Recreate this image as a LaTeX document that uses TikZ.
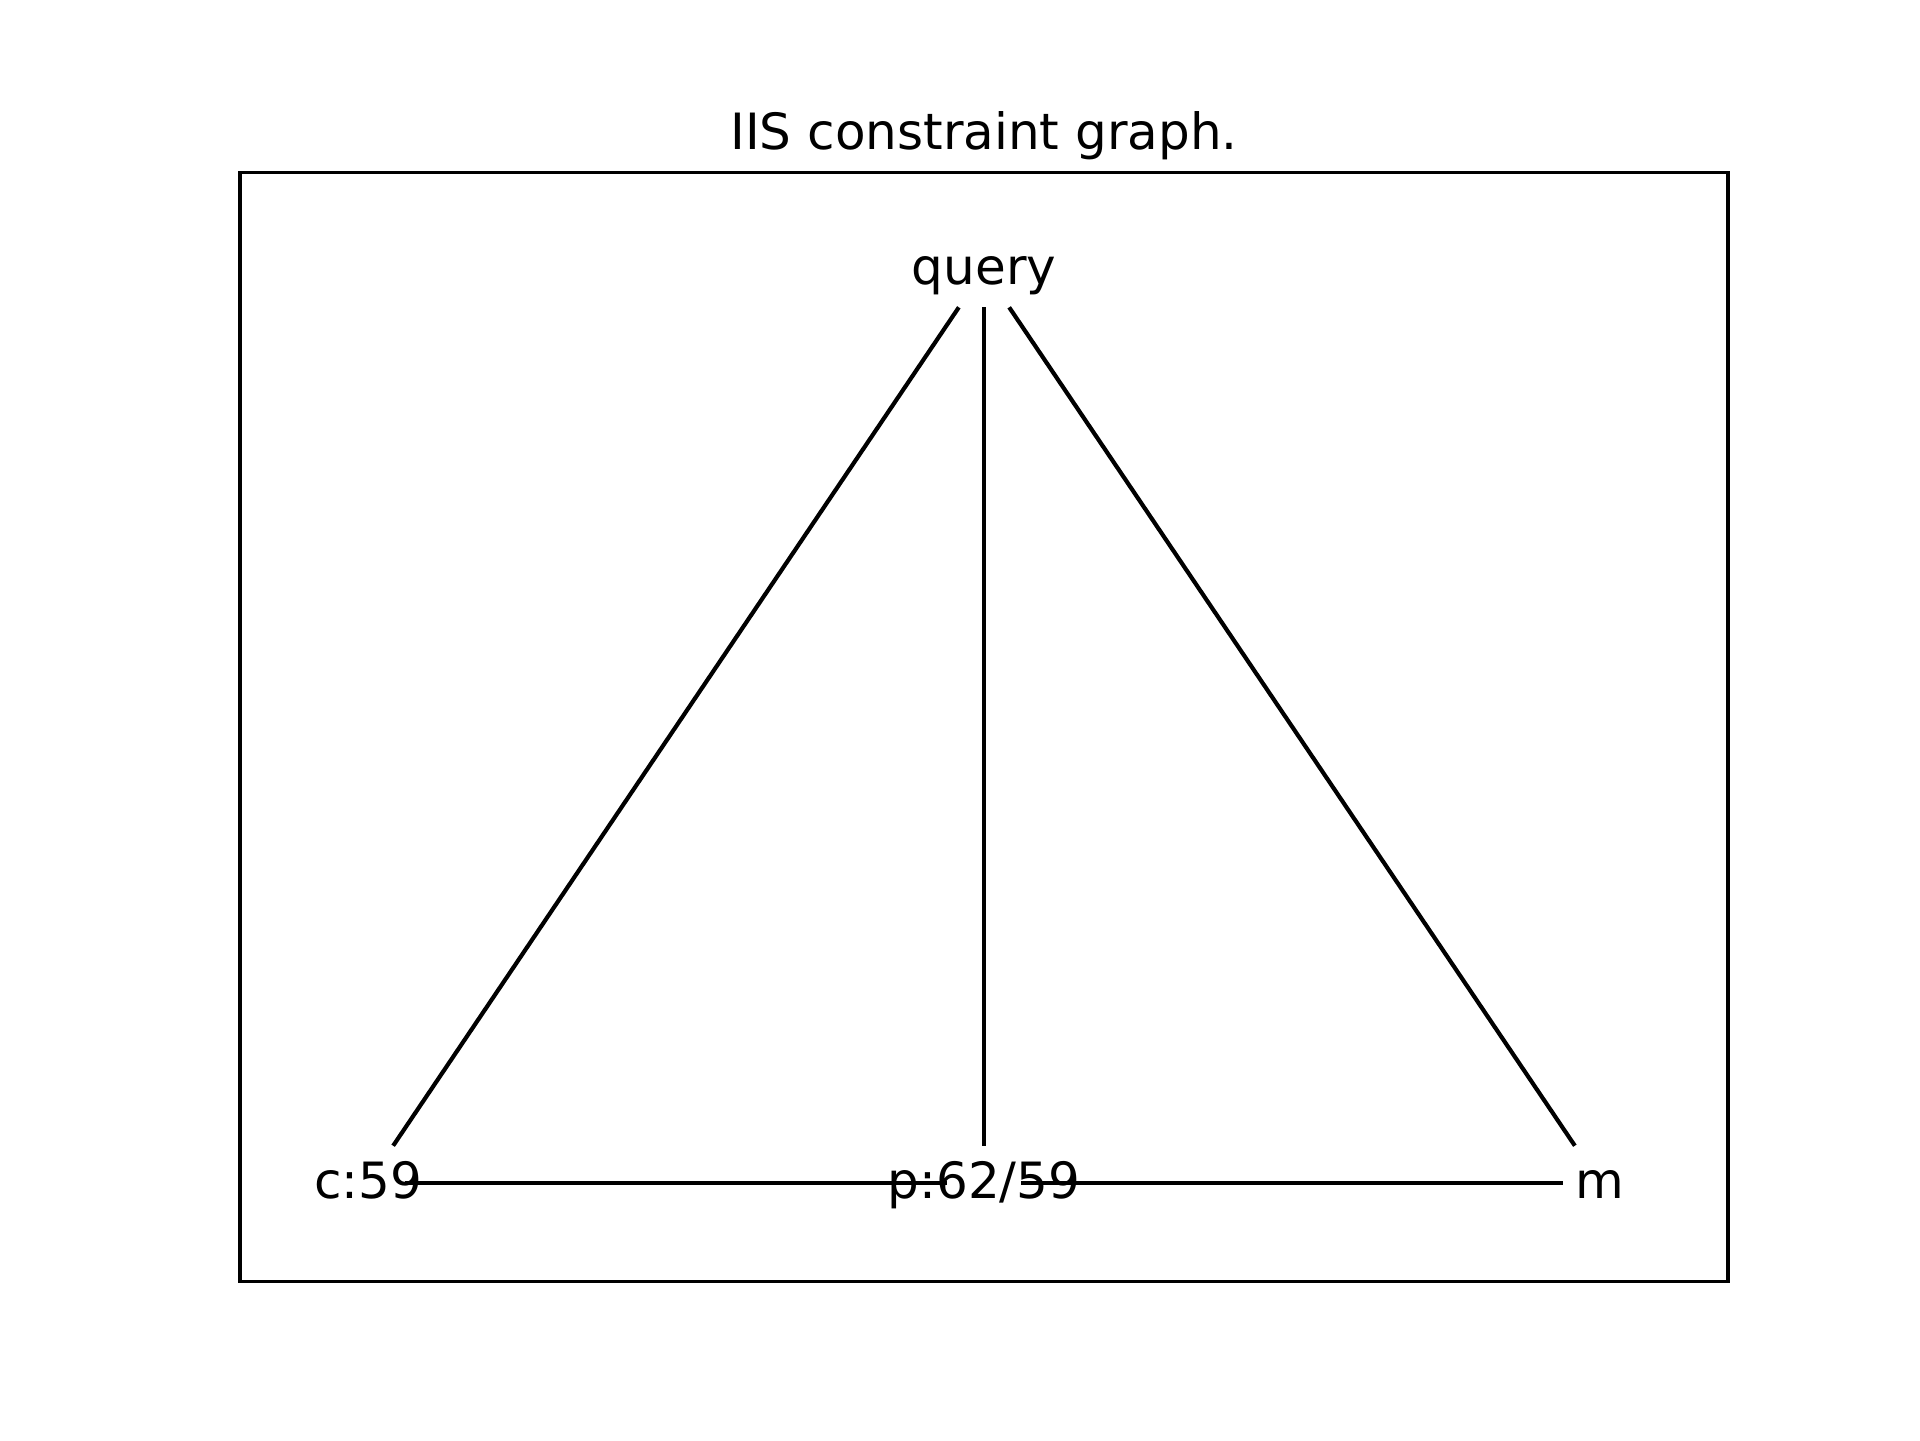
\documentclass[tikz,border=0pt]{standalone}
\usepackage{fontspec}
\setmainfont{DejaVu Sans}
\begin{document}
\begin{tikzpicture}[x=0.24pt,y=-0.24pt,
  lbl/.style={anchor=base,inner sep=0pt,font=\fontsize{12}{14.4}\selectfont},
  edge/.style={line width=1pt,shorten <=8.9pt,shorten >=8.9pt},
  slant/.style={line width=1pt,shorten <=10.8pt,shorten >=10.8pt},
  frame/.style={line width=0.8pt}]
  \useasboundingbox (0,0) rectangle (1920,1440);
  % axes frame and title
  \draw[frame] (240,172.8) rectangle (1728,1281.6);
  \node[lbl] (title) at (984,149.5) {IIS constraint graph.};
  % graph vertices
  \coordinate (q) at (984,270);
  \coordinate (c) at (368,1183);
  \coordinate (p) at (984,1183);
  \coordinate (m) at (1600,1183);
  % edges
  \draw[slant] (q) -- (c);
  \draw[edge] (q) -- (p);
  \draw[slant] (q) -- (m);
  \draw[edge] (c) -- (p);
  \draw[edge] (p) -- (m);
  % vertex labels
  \node[lbl] (ql) at (984,284.5) {query};
  \node[lbl] (cl) at (368,1198) {c:59};
  \node[lbl] (pl) at (984,1198) {p:62/59};
  \node[lbl] (ml) at (1600,1198) {m};
\end{tikzpicture}
\end{document}
